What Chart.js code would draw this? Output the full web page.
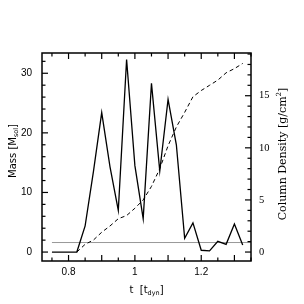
<!DOCTYPE html>
<html>
<head>
<meta charset="utf-8">
<script src="https://cdn.jsdelivr.net/npm/chart.js@4.4.1/dist/chart.umd.min.js"></script>
<style>
  html, body { margin: 0; padding: 0; background: #fff; }
  canvas { display: block; }
</style>
</head>
<body>
<canvas id="mass-chart" width="304" height="304"></canvas>
<script>
// --- Data ---
const times = [0.75, 0.775, 0.8, 0.825, 0.85, 0.875, 0.9, 0.925, 0.95, 0.975,
               1.0, 1.025, 1.05, 1.075, 1.1, 1.125, 1.15, 1.175, 1.2, 1.225,
               1.25, 1.275, 1.3, 1.325];
const mass = [0, 0, 0, 0, 4.4, 13.5, 23.4, 14.3, 7.0, 32.3,
              14.5, 5.6, 28.3, 13.6, 25.6, 18.0, 2.3, 4.9, 0.3, 0.2,
              1.8, 1.3, 4.7, 1.2];
const columnDensity = [null, null, null, 0, 0.74, 1.15, 1.9, 2.5, 3.2, 3.5,
                       4.2, 5.0, 6.3, 8.0, 10.2, 12.0, 13.4, 14.9, 15.5, 16.0,
                       16.5, 17.2, 17.6, 18.1];
const refLineTimes = [0.75, 1.35];
const refLineMass = 1.6;

const xTickLabels = [0.8, 1, 1.2];
const massTickLabels = [0, 10, 20, 30];
const densityTickLabels = [0, 5, 10, 15];

// draw a run of text pieces (normal / sub / sup) centred on (x, y)
function drawRich(ctx, parts, x, y, rot) {
    ctx.save();
    ctx.translate(x, y);
    ctx.rotate(rot);
    ctx.textBaseline = 'alphabetic';
    ctx.textAlign = 'left';
    let total = 0;
    parts.forEach(p => { ctx.font = p.font; total += ctx.measureText(p.t).width + (p.gap || 0); });
    let cx = -total / 2;
    parts.forEach(p => {
        ctx.font = p.font;
        ctx.fillText(p.t, cx, 3.5 + (p.dy || 0));
        cx += ctx.measureText(p.t).width + (p.gap || 0);
    });
    ctx.restore();
}

// inward ticks, frame and axis titles
const frameTicks = {
    id: 'frameTicks',
    afterDraw(chart) {
        const { ctx, chartArea: a, scales } = chart;
        ctx.save();
        ctx.strokeStyle = '#000';
        ctx.lineWidth = 1.2;
        const seg = (x1, y1, x2, y2) => { ctx.beginPath(); ctx.moveTo(x1, y1); ctx.lineTo(x2, y2); ctx.stroke(); };

        for (let i = 15; i <= 27; i++) {          // t = 0.75 .. 1.35 every 0.05
            const px = scales.x.getPixelForValue(i * 0.05);
            const len = i % 2 === 0 ? 6 : 3.5;
            seg(px, a.bottom, px, a.bottom - len);
            seg(px, a.top, px, a.top + len);
        }
        for (let v = 0; v <= 32; v += 2) {
            const py = scales.y.getPixelForValue(v);
            seg(a.left, py, a.left + (v % 10 === 0 ? 6 : 3.5), py);
        }
        for (let v = 0; v <= 19; v += 1) {
            const py = scales.y2.getPixelForValue(v);
            seg(a.right, py, a.right - (v % 5 === 0 ? 6 : 3.5), py);
        }

        ctx.lineWidth = 1.5;
        ctx.strokeRect(a.left, a.top, a.right - a.left, a.bottom - a.top);

        ctx.fillStyle = '#000';
        const sans = 'px "DejaVu Sans"';
        const serif = 'px "DejaVu Serif"';
        drawRich(ctx, [
            { t: 'Mass [M', font: '10' + sans },
            { t: 'sol', font: '6.5' + sans, dy: 2 },
            { t: ']', font: '10' + sans }
        ], 12.5, (a.top + a.bottom) / 2 - 6, -Math.PI / 2);
        drawRich(ctx, [
            { t: 't  [t', font: '10' + sans },
            { t: 'dyn', font: '6.5' + sans, dy: 2 },
            { t: ']', font: '10' + sans }
        ], (a.left + a.right) / 2, 289, 0);
        drawRich(ctx, [
            { t: 'Column Density [g/cm', font: '11' + serif },
            { t: '2', font: '7' + serif, dy: -5 },
            { t: ']', font: '11' + serif }
        ], 282, (a.top + a.bottom) / 2 - 3, -Math.PI / 2);
        ctx.restore();
    }
};

const ctx = document.getElementById('mass-chart');
new Chart(ctx, {
    type: 'line',
    data: {
        datasets: [
            {
                label: 'Mass',
                data: times.map((t, i) => ({ x: t, y: mass[i] })),
                yAxisID: 'y',
                borderColor: '#000',
                borderWidth: 1.3,
                pointRadius: 0,
                tension: 0
            },
            {
                label: 'Column Density',
                data: times.map((t, i) => ({ x: t, y: columnDensity[i] })),
                yAxisID: 'y2',
                borderColor: '#000',
                borderWidth: 1,
                borderDash: [4, 3],
                pointRadius: 0,
                tension: 0
            },
            {
                label: 'Reference',
                data: refLineTimes.map(t => ({ x: t, y: refLineMass })),
                yAxisID: 'y',
                borderColor: '#999',
                borderWidth: 1,
                pointRadius: 0
            }
        ]
    },
    options: {
        responsive: false,
        animation: false,
        devicePixelRatio: 1,
        layout: { padding: { top: 53, left: 0, right: 0, bottom: 0 } },
        plugins: { legend: { display: false }, tooltip: { enabled: false } },
        scales: {
            x: {
                type: 'linear',
                position: 'bottom',
                min: 0.72,
                max: 1.35,
                grid: { display: false, drawTicks: false },
                border: { display: false },
                afterBuildTicks: s => { s.ticks = xTickLabels.map(v => ({ value: v })); },
                afterFit: s => { s.height = 43; },
                ticks: {
                    padding: 5,
                    autoSkip: false,
                    maxRotation: 0,
                    color: '#000',
                    font: { family: 'Liberation Sans', size: 10 },
                    callback: v => String(v)
                }
            },
            y: {
                position: 'left',
                min: -1.5,
                max: 33.4,
                grid: { display: false, drawTicks: false },
                border: { display: false },
                afterBuildTicks: s => { s.ticks = massTickLabels.map(v => ({ value: v })); },
                afterFit: s => { s.width = 42; },
                ticks: {
                    padding: 10,
                    color: '#000',
                    font: { family: 'Liberation Sans', size: 10 }
                }
            },
            y2: {
                position: 'right',
                min: -0.86,
                max: 19.1,
                grid: { display: false, drawTicks: false },
                border: { display: false },
                afterBuildTicks: s => { s.ticks = densityTickLabels.map(v => ({ value: v })); },
                afterFit: s => { s.width = 53; },
                ticks: {
                    padding: 8,
                    color: '#000',
                    font: { family: 'Liberation Serif', size: 10.5 }
                }
            }
        }
    },
    plugins: [frameTicks]
});
</script>
</body>
</html>
